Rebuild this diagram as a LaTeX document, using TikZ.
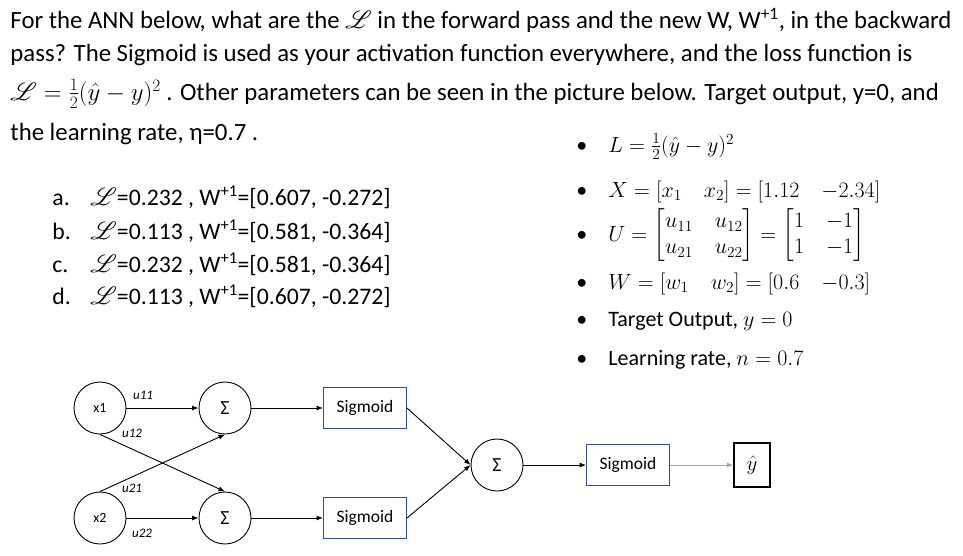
\documentclass[tikz,border=0pt]{standalone}
\usepackage{fix-cm}
\usepackage{amsmath}
\usepackage{amssymb}
\usepackage{mathrsfs}
\usepackage{fontspec}
\setmainfont{Carlito}
\usepackage{xcolor}
\definecolor{boxblue}{HTML}{2F528F}
\definecolor{arrowgray}{HTML}{A6A6A6}
\usepackage{tikz}
\usetikzlibrary{arrows.meta,positioning}

\begin{document}
\begin{tikzpicture}[x=1pt,y=-1pt,->,>={Latex[length=6.5pt,width=5pt]},node distance=125pt,on grid,line width=0.9pt]
            \tikzstyle{txt}=[anchor=base west,inner sep=0pt,font=\fontsize{24.8}{28}\selectfont]
            \tikzstyle{opt}=[anchor=base west,inner sep=0pt,font=\fontsize{23.7}{27}\selectfont]
            \tikzstyle{itm}=[anchor=base west,inner sep=0pt,font=\fontsize{22}{26}\selectfont]
            \tikzstyle{neuron}=[circle,draw,minimum size=52pt,inner sep=0pt,font=\fontsize{14}{14}\selectfont]
            \tikzstyle{sumnode}=[neuron,font=\fontsize{20}{20}\selectfont]
            \tikzstyle{actbox}=[draw=boxblue,minimum width=83pt,minimum height=41pt,inner sep=0pt,font=\fontsize{17.5}{18}\selectfont]
            \tikzstyle{yhatbox}=[draw,line width=1.2pt,minimum width=36pt,minimum height=44pt,inner sep=0pt,font=\fontsize{21}{21}\selectfont]
            \tikzstyle{wlabel}=[inner sep=0pt,font=\fontsize{13}{13}\selectfont\itshape]
            \useasboundingbox[draw=none] (0,0) rectangle (963,555);

            % question
            \node[txt] (q1) at (10,28) {For the ANN below, what are the $\mathscr{L}$ in the forward pass and the new W, W\textsuperscript{+1}, in the backward};
            \node[txt] (q2) at (10,61) {pass? The Sigmoid is used as your activation function everywhere, and the loss function is};
            \node[txt] (q3) at (10,100) {$\mathscr{L}=\frac{1}{2}(\hat{y}-y)^2$ . Other parameters can be seen in the picture below. Target output, y=0, and};
            \node[txt] (q4) at (10,140) {the learning rate, η=0.7 .};

            % answers
            \node[opt] (la) at (52,205) {a.};
            \node[opt] (oa) at (90,205) {$\mathscr{L}$=0.232 , W\textsuperscript{+1}=[0.607, -0.272]};
            \node[opt] (lb) at (52,239) {b.};
            \node[opt] (ob) at (90,239) {$\mathscr{L}$=0.113 , W\textsuperscript{+1}=[0.581, -0.364]};
            \node[opt] (lc) at (52,272) {c.};
            \node[opt] (oc) at (90,272) {$\mathscr{L}$=0.232 , W\textsuperscript{+1}=[0.581, -0.364]};
            \node[opt] (ld) at (52,304) {d.};
            \node[opt] (od) at (90,304) {$\mathscr{L}$=0.113 , W\textsuperscript{+1}=[0.607, -0.272]};

            % parameters
            \foreach \y/\n in {152/1,197/2,241/3,289/4,326/5,365/6}
                \node[itm] (b\n) at (576,\y) {\textbullet};
            \node[itm] (p1) at (608,152) {$L=\frac{1}{2}(\hat{y}-y)^2$};
            \node[itm] (p2) at (608,197) {$X=[x_1\quad x_2]=[1.12\quad {-2.34}]$};
            \node[itm] (p3) at (608,241) {\setlength{\arraycolsep}{11pt}$U=\begin{bmatrix}u_{11} & u_{12}\\ u_{21} & u_{22}\end{bmatrix}=\begin{bmatrix}1 & -1\\ 1 & -1\end{bmatrix}$};
            \node[itm] (p4) at (608,289) {$W=[w_1\quad w_2]=[0.6\quad {-0.3}]$};
            \node[itm] (p5) at (608,326) {Target Output, $y=0$};
            \node[itm] (p6) at (608,365) {Learning rate, $n=0.7$};

            % network
            \node[neuron] (x1) at (100,408) {x1};
            \node[sumnode] (s1) [right=125pt of x1] {Σ};
            \node[neuron] (x2) [below=110pt of x1] {x2};
            \node[sumnode] (s2) [right=125pt of x2] {Σ};
            \node[actbox] (g1) [right=140pt of s1] {Sigmoid};
            \node[actbox] (g2) [right=140pt of s2] {Sigmoid};
            \node[sumnode] (so) at (497,465) {Σ};
            \node[actbox] (go) [right=131pt of so] {Sigmoid};
            \node[yhatbox,draw=black] (yh) [right=124pt of go] {$\hat{y}$};

            \node[wlabel] (u11) at (143,395) {u11};
            \node[wlabel] (u12) at (132,433) {u12};
            \node[wlabel] (u21) at (132,488) {u21};
            \node[wlabel] (u22) at (142,533) {u22};

            \path   (x1) edge (s1)
                    (x1.south) edge (s2.north)
                    (x2.north) edge (s1.south)
                    (x2) edge (s2)
                    (s1) edge (g1)
                    (s2) edge (g2)
                    (g1.east) edge (so.west)
                    (g2.east) edge (so.west)
                    (so) edge (go)
                    (go) edge [arrowgray] (yh);
        \end{tikzpicture}
\end{document}
